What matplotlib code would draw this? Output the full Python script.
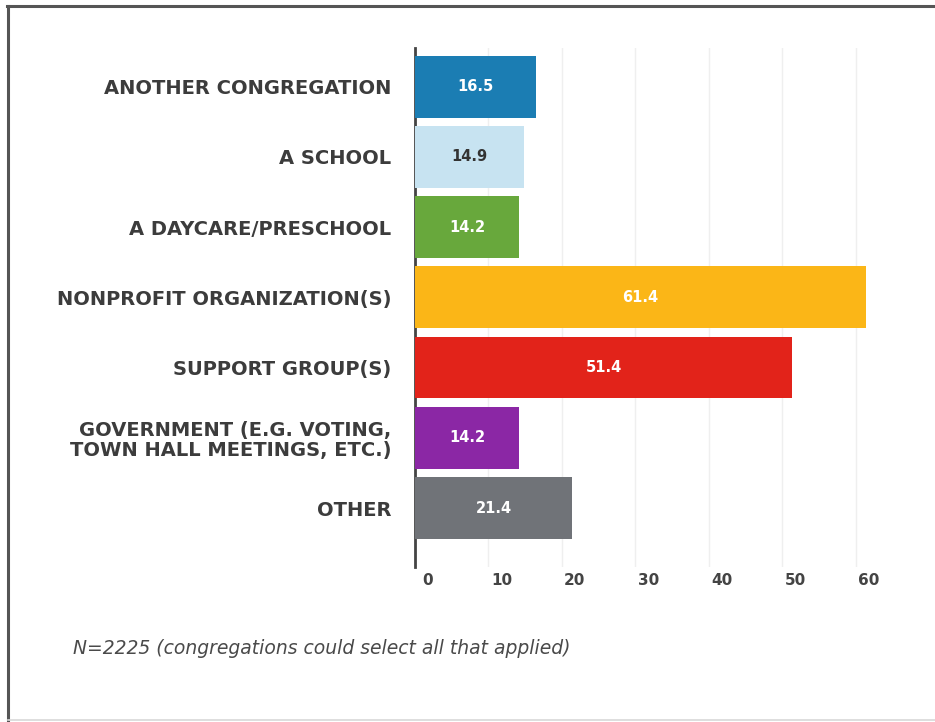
import matplotlib
matplotlib.use("Agg")
import matplotlib.pyplot as plt
from matplotlib.transforms import ScaledTranslation

categories = [
    "ANOTHER CONGREGATION",
    "A SCHOOL",
    "A DAYCARE/PRESCHOOL",
    "NONPROFIT ORGANIZATION(S)",
    "SUPPORT GROUP(S)",
    "GOVERNMENT (E.G. VOTING,\nTOWN HALL MEETINGS, ETC.)",
    "OTHER",
]
values = [16.5, 14.9, 14.2, 61.4, 51.4, 14.2, 21.4]
bar_colors = ["#1b7db3", "#c7e3f1", "#68a83c", "#fbb617", "#e2231a", "#8b27a5", "#707378"]
label_colors = ["white", "#333333", "white", "white", "white", "white", "white"]
x_ticks = [0, 10, 20, 30, 40, 50, 60]
footnote = "N=2225 (congregations could select all that applied)"

W, H = 935, 722
fig = plt.figure(figsize=(W / 100, H / 100), dpi=100)
fig.patch.set_facecolor("white")

# frame around the panel
fig.add_artist(plt.Line2D([8 / W, 8 / W], [1 - 720 / H, 1 - 6 / H], transform=fig.transFigure,
                          color="#555555", lw=2.2))
fig.add_artist(plt.Line2D([7 / W, 1.0], [1 - 6 / H, 1 - 6 / H], transform=fig.transFigure,
                          color="#555555", lw=2.2))
fig.add_artist(plt.Line2D([8 / W, 1.0], [1 - 720 / H, 1 - 720 / H], transform=fig.transFigure,
                          color="#d8d8d8", lw=1.2))

ax_left, ax_right = 415, 885
ax_top, ax_bottom = 48, 567
ax = fig.add_axes([ax_left / W, 1 - ax_bottom / H, (ax_right - ax_left) / W, (ax_bottom - ax_top) / H])

y = list(range(len(categories)))
ax.barh(y, values, height=0.88, color=bar_colors, zorder=3)
ax.set_xlim(0, 64)
ax.set_ylim(len(categories) - 1 + 0.84, -0.55)

for yi, v, lc in zip(y, values, label_colors):
    ax.text(v / 2, yi, f"{v:.1f}", ha="center", va="center", color=lc,
            fontsize=10.5, fontfamily="DejaVu Sans", fontweight="bold", zorder=4)

ax.set_yticks(y)
ax.set_yticklabels(categories, fontfamily="DejaVu Sans", fontweight="bold", fontsize=14,
                   color="#3c3c3c", linespacing=1.1)
ax.tick_params(axis="y", length=0, pad=17)

ax.set_xticks(x_ticks)
ax.set_xticklabels([str(t) for t in x_ticks], fontfamily="DejaVu Sans", fontweight="bold",
                   fontsize=11, color="#444444")
ax.tick_params(axis="x", length=0, pad=4)
shift = ScaledTranslation(13 / 100, 0, fig.dpi_scale_trans)
for lbl in ax.get_xticklabels():
    lbl.set_transform(lbl.get_transform() + shift)

ax.grid(axis="x", color="#efefef", lw=1.0, zorder=0)
ax.set_axisbelow(True)
for side in ["top", "right", "bottom"]:
    ax.spines[side].set_visible(False)
ax.spines["left"].set_color("#444444")
ax.spines["left"].set_linewidth(2)
ax.set_facecolor("none")

fig.text(73 / W, 1 - 648 / H, footnote, ha="left", va="center", fontsize=13.5,
         fontfamily="DejaVu Sans", fontstyle="italic", color="#4a4a4a")

fig.savefig("out.png", dpi=100, facecolor="white")
